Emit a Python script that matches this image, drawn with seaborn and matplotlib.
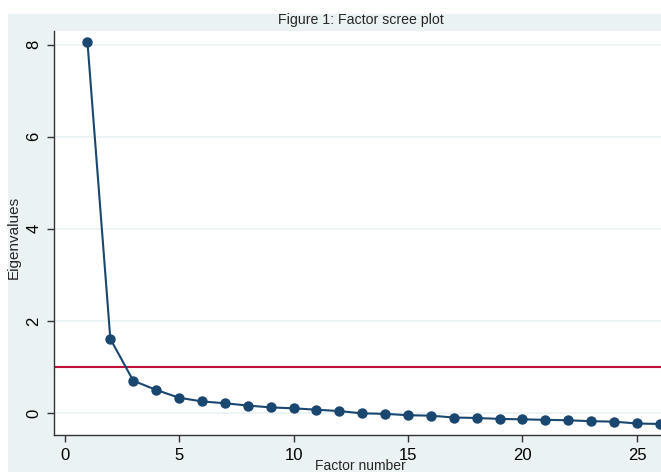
import matplotlib
matplotlib.use("Agg")
import matplotlib.pyplot as plt
import seaborn as sns
import pandas as pd
from matplotlib.patches import Rectangle

factors = list(range(1, 27))
eigenvalues = [8.07, 1.61, 0.70, 0.50, 0.33, 0.25, 0.21, 0.16, 0.12, 0.10,
               0.07, 0.04, -0.01, -0.02, -0.05, -0.06, -0.10, -0.11, -0.13, -0.14,
               -0.15, -0.16, -0.18, -0.19, -0.23, -0.24]
x_ticks = [0, 5, 10, 15, 20, 25]
y_ticks = [0, 2, 4, 6, 8]
ref_line = 1

df = pd.DataFrame({"Factor number": factors, "Eigenvalues": eigenvalues})

sns.set_style("white")
plt.rcParams["font.family"] = ["Liberation Sans", "DejaVu Sans"]

W, H = 661, 472
fig = plt.figure(figsize=(W / 100, H / 100), dpi=100, facecolor="white")
fig.patches.append(Rectangle((8 / W, 0), 1, (H - 14) / H, transform=fig.transFigure,
                             facecolor="#EAF2F3", edgecolor="none", zorder=-10))

ax = fig.add_axes([54 / W, (H - 435) / H, (W - 54) / W, (435 - 31) / H])
ax.set_facecolor("white")

for yt in y_ticks:
    ax.axhline(yt, color="#EAF2F3", lw=1.3, zorder=0)
ax.axhline(ref_line, color="#C0143C", lw=1.5, zorder=1)

sns.lineplot(data=df, x="Factor number", y="Eigenvalues", ax=ax, color="#1A476F",
             lw=1.5, marker="o", markersize=7.5, markeredgewidth=0, zorder=3)

ax.set_xlim(-0.46, 26.05)
ax.set_ylim(-0.48, 8.3)
ax.set_xticks(x_ticks)
ax.set_yticks(y_ticks)
ax.set_yticklabels([str(v) for v in y_ticks], rotation=90, va="center")
ax.tick_params(axis="both", direction="out", length=5, width=1, color="#333333",
               labelsize=12, labelcolor="black", pad=4)
ax.tick_params(axis="x", bottom=True)
ax.tick_params(axis="y", left=True)

for s in ["top", "right"]:
    ax.spines[s].set_visible(False)
for s in ["left", "bottom"]:
    ax.spines[s].set_color("#333333")
    ax.spines[s].set_linewidth(1)

ax.set_xlabel("Factor number", fontsize=10)
ax.set_ylabel("Eigenvalues", fontsize=11)
ax.xaxis.set_label_coords((360 - 54) / (W - 54), -(459 - 435) / (435 - 31))
ax.yaxis.set_label_coords(-(54 - 21) / (W - 54), (435 - 237) / (435 - 31))

fig.text(361 / W, (H - 20) / H, "Figure 1: Factor scree plot", ha="center",
         va="center", fontsize=10.2)

fig.savefig("out.png", dpi=100, facecolor="white")
